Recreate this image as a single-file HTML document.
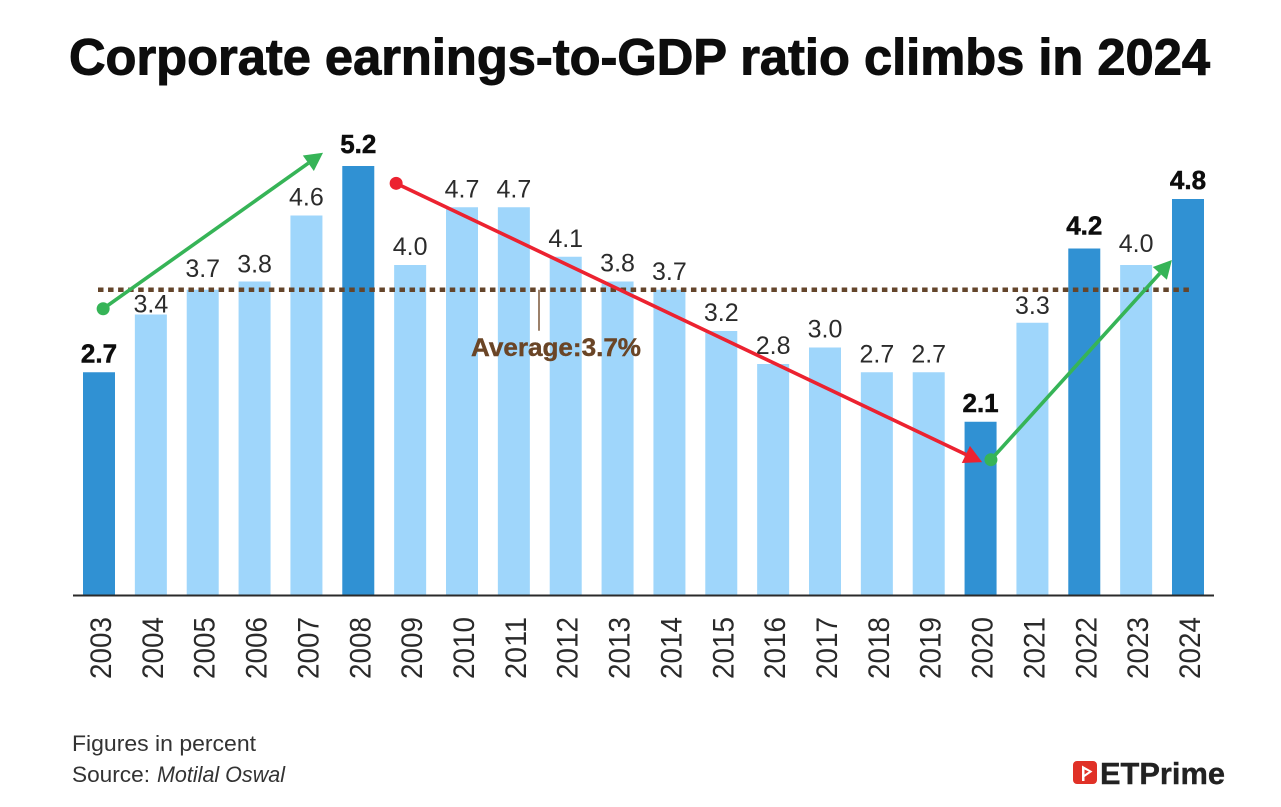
<!DOCTYPE html>
<html lang="en">
<head>
<meta charset="utf-8">
<title>Corporate earnings-to-GDP ratio climbs in 2024</title>
<style>
html,body{margin:0;padding:0;background:#fff;width:1281px;height:807px;overflow:hidden}
svg{display:block;font-family:"Liberation Sans",sans-serif}
</style>
</head>
<body>
<svg id="chart" width="1281" height="807" viewBox="0 0 1281 807" xmlns="http://www.w3.org/2000/svg">
  <text x="69" y="74.5" font-size="51" font-weight="700" fill="#0d0d0d" stroke="#0d0d0d" stroke-width="1" textLength="1141" lengthAdjust="spacingAndGlyphs">Corporate earnings-to-GDP ratio climbs in 2024</text>
  <g id="bars"></g>
  <line id="axis" x1="73" x2="1214" y1="595.5" y2="595.5" stroke="#2a2a2a" stroke-width="2"></line>
  <g id="years"></g>
  <g id="average"></g>
  <g id="values"></g>
  <g id="arrows"></g>
  <text x="72" y="751" font-size="22" fill="#333" textLength="184" lengthAdjust="spacingAndGlyphs">Figures in percent</text>
  <text x="72" y="782" font-size="22" fill="#333" textLength="78" lengthAdjust="spacingAndGlyphs">Source:</text>
  <text x="157" y="782" font-size="22" font-style="italic" fill="#333" textLength="128" lengthAdjust="spacingAndGlyphs">Motilal Oswal</text>
  <g>
    <rect x="1073" y="761" width="24" height="23" rx="4" fill="#e03127"></rect>
    <path d="M1082 765.5 L1082 781 L1084.5 781 L1084.5 777 L1092.5 771.5 Z M1084.5 769.5 L1088.8 771.5 L1084.5 774.5 Z" fill="#fff" fill-rule="evenodd"></path>
    <text x="1100" y="784" font-size="31" font-weight="700" fill="#222" stroke="#222" stroke-width="0.4" textLength="125" lengthAdjust="spacingAndGlyphs">ETPrime</text>
  </g>
</svg>
<script>
const years = [2003,2004,2005,2006,2007,2008,2009,2010,2011,2012,2013,2014,2015,2016,2017,2018,2019,2020,2021,2022,2023,2024];
const ratios = [2.7,3.4,3.7,3.8,4.6,5.2,4.0,4.7,4.7,4.1,3.8,3.7,3.2,2.8,3.0,2.7,2.7,2.1,3.3,4.2,4.0,4.8];
const highlightedYears = [2003,2008,2020,2022,2024];
const averageValue = 3.7;
const averageLabel = 'Average:3.7%';
// Trend arrows in data units: [category index, ratio]
const arrowRise1 = [[0.08,3.47],[4.32,5.36]];
const arrowFall = [[5.73,4.99],[17.03,1.61]];
const arrowRise2 = [[17.2,1.64],[20.69,4.06]];

const NS = 'http://www.w3.org/2000/svg';
const baseY = 595, unitH = 82.5, firstX = 99, stepX = 51.857, barW = 32;
const xAt = i => firstX + stepX * i;
const yAt = v => baseY - v * unitH;
const fmt = v => v.toFixed(1);
const labelNudge = {2004:8, 2005:-3, 2006:1, 2008:-3, 2021:1, 2022:-4, 2023:-3};

function make(tag, parent){
  const el = document.createElementNS(NS, tag);
  document.getElementById(parent).appendChild(el);
  return el;
}

years.forEach((yr, i) => {
  const v = ratios[i];
  const hi = highlightedYears.includes(yr);
  const bar = make('rect', 'bars');
  
  
  bar.setAttribute('x', xAt(i) - barW / 2);
  bar.setAttribute('y', yAt(v));
  bar.setAttribute('width', barW);
  bar.setAttribute('height', baseY - yAt(v));
  bar.setAttribute('fill', hi ? '#3091d3' : '#9fd6fb');

  const yl = make('text', 'years');
  
  
  yl.setAttribute('transform', 'translate(' + (xAt(i) + 12) + ',679) rotate(-90)');
  yl.setAttribute('font-size', '30');
  yl.setAttribute('fill', '#2a2a2a');
  yl.setAttribute('textLength', '62');
  yl.setAttribute('lengthAdjust', 'spacingAndGlyphs');
  yl.textContent = yr;

  const vl = make('text', 'values');
  
  
  vl.setAttribute('x', xAt(i));
  vl.setAttribute('y', yAt(v) - 10 + (labelNudge[yr] || 0));
  vl.setAttribute('text-anchor', 'middle');
  vl.setAttribute('font-size', hi ? '26' : '25');
  vl.setAttribute('font-weight', hi ? '700' : '400');
  vl.setAttribute('fill', hi ? '#0d0d0d' : '#2b2b2b');
  if (hi) {
    vl.setAttribute('stroke', '#0d0d0d');
    vl.setAttribute('stroke-width', '0.5');
  }
  vl.textContent = fmt(v);
});

const avgLine = make('line', 'average');


avgLine.setAttribute('x1', xAt(0) - 1);
avgLine.setAttribute('x2', xAt(years.length - 1) + 1);
avgLine.setAttribute('y1', yAt(averageValue));
avgLine.setAttribute('y2', yAt(averageValue));
avgLine.setAttribute('stroke', '#64452b');
avgLine.setAttribute('stroke-width', '4.5');
avgLine.setAttribute('stroke-dasharray', '5.5 4.55');

const avgTick = make('line', 'average');


avgTick.setAttribute('x1', '539');
avgTick.setAttribute('x2', '539');
avgTick.setAttribute('y1', yAt(averageValue));
avgTick.setAttribute('y2', yAt(averageValue) + 41);
avgTick.setAttribute('stroke', '#7a5638');
avgTick.setAttribute('stroke-width', '1.5');

const avgText = make('text', 'average');


avgText.setAttribute('x', '471');
avgText.setAttribute('y', yAt(averageValue) + 66);
avgText.setAttribute('font-size', '25');
avgText.setAttribute('font-weight', '700');
avgText.setAttribute('fill', '#6a4526');
avgText.setAttribute('stroke', '#6a4526');
avgText.setAttribute('stroke-width', '0.4');
avgText.setAttribute('textLength', '170');
avgText.setAttribute('lengthAdjust', 'spacingAndGlyphs');
avgText.textContent = averageLabel;

function drawArrow(points, color, name, headLen, headW){
  const x1 = xAt(points[0][0]), y1 = yAt(points[0][1]);
  const x2 = xAt(points[1][0]), y2 = yAt(points[1][1]);
  const a = Math.atan2(y2 - y1, x2 - x1);
  const bx = x2 - headLen * Math.cos(a), by = y2 - headLen * Math.sin(a);
  const nx = -Math.sin(a) * headW, ny = Math.cos(a) * headW;

  const shaft = make('line', 'arrows');
  
  
  shaft.setAttribute('x1', x1);
  shaft.setAttribute('y1', y1);
  shaft.setAttribute('x2', bx);
  shaft.setAttribute('y2', by);
  shaft.setAttribute('stroke', color);
  shaft.setAttribute('stroke-width', '3.6');

  const head = make('polygon', 'arrows');
  
  
  head.setAttribute('points', x2 + ',' + y2 + ' ' + (bx + nx) + ',' + (by + ny) + ' ' + (bx - nx) + ',' + (by - ny));
  head.setAttribute('fill', color);

  const dot = make('circle', 'arrows');
  
  
  dot.setAttribute('cx', x1);
  dot.setAttribute('cy', y1);
  dot.setAttribute('r', '6.5');
  dot.setAttribute('fill', color);
}
drawArrow(arrowFall, '#ec2230', 'falling-arrow', 18, 9.5);
drawArrow(arrowRise1, '#36b457', 'rising-arrow-2003-2008', 18, 9.5);
drawArrow(arrowRise2, '#36b457', 'rising-arrow-2020-2024', 18, 9.5);
</script>
</body>
</html>
